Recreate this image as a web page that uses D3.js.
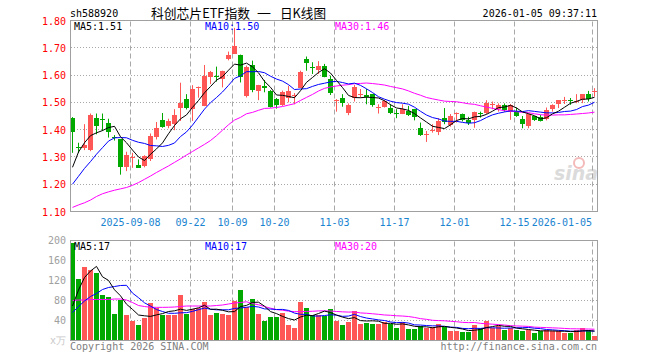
<!DOCTYPE html>
<html><head><meta charset="utf-8">
<script src="https://cdn.jsdelivr.net/npm/d3@7/dist/d3.min.js"></script>
<style>
body{margin:0;background:#fff}
svg{display:block}
text{font-family:"DejaVu Sans Mono","Liberation Mono",monospace;font-size:10px}
</style>
</head><body>
<svg id="chart" width="660" height="360"></svg>
<script>
// ---------- DATA ----------
const dates = [
"2025-08-25","2025-08-26","2025-08-27","2025-08-28","2025-08-29",
"2025-09-01","2025-09-02","2025-09-03","2025-09-04","2025-09-05",
"2025-09-08","2025-09-09","2025-09-10","2025-09-11","2025-09-12",
"2025-09-15","2025-09-16","2025-09-17","2025-09-18","2025-09-19",
"2025-09-22","2025-09-23","2025-09-24","2025-09-25","2025-09-26",
"2025-09-29","2025-09-30","2025-10-09","2025-10-10","2025-10-13",
"2025-10-14","2025-10-15","2025-10-16","2025-10-17","2025-10-20",
"2025-10-21","2025-10-22","2025-10-23","2025-10-24","2025-10-27",
"2025-10-28","2025-10-29","2025-10-30","2025-10-31","2025-11-03",
"2025-11-04","2025-11-05","2025-11-06","2025-11-07","2025-11-10",
"2025-11-11","2025-11-12","2025-11-13","2025-11-14","2025-11-17",
"2025-11-18","2025-11-19","2025-11-20","2025-11-21","2025-11-24",
"2025-11-25","2025-11-26","2025-11-27","2025-11-28","2025-12-01",
"2025-12-02","2025-12-03","2025-12-04","2025-12-05","2025-12-08",
"2025-12-09","2025-12-10","2025-12-11","2025-12-12","2025-12-15",
"2025-12-16","2025-12-17","2025-12-18","2025-12-19","2025-12-22",
"2025-12-23","2025-12-24","2025-12-25","2025-12-26","2025-12-29",
"2025-12-30","2025-12-31","2026-01-05"];

const opens = [1.444,1.336,1.335,1.324,1.444,1.438,1.423,1.372,1.364,1.262,
1.298,1.272,1.266,1.291,1.371,1.434,1.410,1.422,1.479,1.511,
1.474,1.550,1.486,1.594,1.598,1.585,1.657,1.680,1.674,1.524,
1.637,1.543,1.559,1.543,1.512,1.493,1.518,1.525,1.555,1.660,
1.630,1.622,1.635,1.586,1.506,1.516,1.463,1.516,1.528,1.527,
1.530,1.479,1.484,1.479,1.461,1.457,1.469,1.476,1.407,1.380,
1.396,1.391,1.441,1.416,1.457,1.457,1.436,1.432,1.461,1.460,
1.492,1.475,1.490,1.466,1.469,1.438,1.414,1.450,1.448,1.438,
1.475,1.494,1.506,1.507,1.503,1.508,1.530,1.540];
const highs = [1.446,1.352,1.420,1.459,1.459,1.459,1.440,1.380,1.365,1.319,
1.315,1.291,1.306,1.386,1.428,1.461,1.440,1.475,1.572,1.530,
1.563,1.558,1.637,1.615,1.631,1.616,1.686,1.773,1.675,1.635,
1.653,1.564,1.582,1.545,1.516,1.543,1.561,1.534,1.616,1.668,
1.647,1.651,1.641,1.598,1.512,1.530,1.496,1.564,1.549,1.549,
1.531,1.493,1.509,1.493,1.475,1.493,1.487,1.476,1.426,1.395,
1.420,1.442,1.479,1.457,1.463,1.459,1.447,1.466,1.466,1.508,
1.503,1.496,1.496,1.494,1.481,1.450,1.459,1.450,1.454,1.481,
1.493,1.508,1.520,1.516,1.530,1.530,1.542,1.552];
const lows = [1.315,1.315,1.325,1.321,1.383,1.395,1.371,1.360,1.235,1.248,
1.260,1.260,1.262,1.285,1.364,1.407,1.405,1.398,1.432,1.474,
1.432,1.517,1.486,1.567,1.576,1.555,1.654,1.678,1.573,1.518,
1.537,1.508,1.537,1.481,1.477,1.487,1.500,1.493,1.553,1.616,
1.604,1.604,1.592,1.527,1.466,1.484,1.453,1.503,1.518,1.493,
1.484,1.459,1.481,1.457,1.442,1.457,1.450,1.434,1.377,1.355,
1.389,1.380,1.420,1.411,1.426,1.430,1.417,1.407,1.444,1.457,
1.475,1.466,1.466,1.436,1.447,1.405,1.405,1.432,1.430,1.434,
1.466,1.479,1.494,1.491,1.497,1.497,1.503,1.521];
const closes = [1.393,1.334,1.345,1.454,1.416,1.434,1.389,1.368,1.262,1.307,
1.300,1.262,1.303,1.377,1.405,1.410,1.430,1.454,1.499,1.477,
1.549,1.555,1.596,1.613,1.594,1.614,1.672,1.708,1.594,1.631,
1.545,1.564,1.551,1.485,1.490,1.539,1.543,1.528,1.613,1.644,
1.628,1.635,1.596,1.534,1.509,1.497,1.491,1.557,1.531,1.519,
1.491,1.482,1.506,1.459,1.459,1.475,1.454,1.447,1.380,1.383,
1.398,1.432,1.426,1.450,1.460,1.436,1.425,1.463,1.459,1.497,
1.494,1.491,1.473,1.490,1.450,1.420,1.459,1.436,1.432,1.471,
1.491,1.508,1.508,1.505,1.506,1.530,1.512,1.540];
const volumes = [194,122,146,140,134,90,86,52,80,50,
38,30,44,74,65,51,51,51,90,53,
63,65,76,50,54,52,50,78,100,66,
82,52,38,46,46,54,30,24,76,64,
50,51,48,62,38,30,36,58,32,34,
32,32,36,33,24,36,22,22,28,24,
26,32,26,18,18,16,16,30,25,38,
25,28,21,24,21,18,21,14,18,20,
18,18,14,14,21,24,21,9];

// moving-average values before enough history exists
const priceMa5Lead  = [1.262,1.318,1.352,1.378];
const priceMa10Lead = [1.200,1.229,1.258,1.283,1.310,1.334,1.358,1.370,1.371];
const priceMa30Lead = [1.115,1.124,1.132,1.142,1.155,1.165,1.172,1.178,1.183,1.188,
  1.196,1.206,1.218,1.230,1.243,1.255,1.267,1.280,1.293,1.307,
  1.320,1.333,1.346,1.360,1.378,1.398,1.418,1.435,1.445];
const volMa5Lead  = [68,100,125,138];
const volMa10Lead = [55,67,78,87,93,101,105,107,109];
const volMa30Lead = [79,80,80,81,81,81,81,82,82,80,
  75,69,67,65.5,65.3,65.3,65.5,66,67,68,
  68,68,68,68,69,70,72,74,75];

const priceTicks = [1.80,1.70,1.60,1.50,1.40,1.30,1.20,1.10];
const volTicks = [200,160,120,80,40];
const dateTicks = ["2025-09-08","2025-09-22","2025-10-09","2025-10-20","2025-11-03","2025-11-17","2025-12-01","2025-12-15","2026-01-05"];
const dateTickLabels = ["2025-09-08","09-22","10-09","10-20","11-03","11-17","12-01","12-15","2026-01-05"];
const priceMaLabels = ["MA5:1.51","MA10:1.50","MA30:1.46"];
const volMaLabels = ["MA5:17","MA10:17","MA30:20"];
const headerCode = "sh588920";
const titleParts = ["科创芯片ETF指数","一","日K线图"];
const headerTime = "2026-01-05 09:37:11";

// ---------- DRAW ----------
const svg = d3.select("#chart");
const RED = "#ff5656", GREEN = "#00a800", GRID = "#a8a8a8", FRAME = "#a0a0a0";
const maColors = ["#000000","#0000ff","#ff00ff"];

const L = 70, R = 598;
const x = d3.scaleBand().domain(dates).range([L - 0.5, R - 0.5]).paddingInner(1/6).paddingOuter(1/12);
const y = d3.scaleLinear().domain([1.10, 1.80]).range([211.5, 20.5]);
const yv = d3.scaleLinear().domain([0, 200]).range([340, 240]);
const cx = d => Math.round(x(d)) + 2.5;
const crisp = v => Math.round(v) + 0.5;

function movingAvg(vals, n, lead) {
  return vals.map((v, i) => i < n - 1 ? lead[i] : d3.mean(vals.slice(i - n + 1, i + 1)));
}

// header
svg.append("text").attr("x", 70).attr("y", 17).text(headerCode).attr("fill", "#000");
const titleX = [151, 257, 280], titleW = [99, 14, 46];
titleParts.forEach((t, k) => svg.append("text").attr("x", titleX[k]).attr("y", 18).text(t).attr("fill", "#000")
  .style("font-family", "'Noto Sans CJK SC',sans-serif").style("font-size", "13px")
  .attr("textLength", titleW[k]).attr("lengthAdjust", "spacingAndGlyphs"));
svg.append("text").attr("x", 597).attr("y", 17).attr("text-anchor", "end").text(headerTime).attr("fill", "#000");

// watermark
const wm = svg.append("g").attr("opacity", 0.9);
wm.append("circle").attr("cx", 579).attr("cy", 163).attr("r", 5).attr("fill", "none").attr("stroke", "#f3b3b3").attr("stroke-width", 2);
wm.append("text").attr("x", 554).attr("y", 180).text("sina").attr("fill", "#d8d8d8")
  .style("font-family", "'DejaVu Sans',sans-serif").style("font-size", "19px").style("font-weight", "bold").style("font-style", "italic");

function panel(top, bottom, hTicks, yScale) {
  const g = svg.append("g");
  g.selectAll("line.h").data(hTicks).join("line")
    .attr("x1", L + 1).attr("x2", R - 1)
    .attr("y1", d => crisp(yScale(d) - 0.5)).attr("y2", d => crisp(yScale(d) - 0.5))
    .attr("stroke", GRID).attr("stroke-dasharray", "1,2");
  g.selectAll("line.v").data(dateTicks).join("line")
    .attr("x1", d => Math.round(x(d)) + 0.5).attr("x2", d => Math.round(x(d)) + 0.5)
    .attr("y1", top + 1).attr("y2", bottom)
    .attr("stroke", GRID).attr("stroke-dasharray", "5,3");
  return g;
}
panel(20.5, 211.5, [1.70,1.60,1.50,1.40,1.30,1.20], y);
panel(240.5, 340, [160,120,80,40], yv);

// candles
const idx = d3.range(dates.length);
const cg = svg.append("g");
cg.selectAll("line.wick").data(idx).join("line")
  .attr("x1", i => cx(dates[i])).attr("x2", i => cx(dates[i]))
  .attr("y1", i => y(highs[i])).attr("y2", i => y(lows[i]))
  .attr("stroke", i => closes[i] >= opens[i] ? RED : GREEN);
cg.selectAll("rect.body").data(idx).join("rect")
  .attr("x", i => Math.round(x(dates[i])))
  .attr("width", 5)
  .attr("y", i => Math.round(y(Math.max(opens[i], closes[i]))))
  .attr("height", i => Math.max(1, Math.round(Math.abs(y(opens[i]) - y(closes[i])))))
  .attr("fill", i => closes[i] >= opens[i] ? RED : GREEN)
  .attr("shape-rendering", "crispEdges");

// volume bars
svg.append("g").selectAll("rect").data(idx).join("rect")
  .attr("x", i => Math.round(x(dates[i])))
  .attr("width", 5)
  .attr("y", i => Math.round(yv(volumes[i])))
  .attr("height", i => 340 - Math.round(yv(volumes[i])))
  .attr("fill", i => closes[i] >= opens[i] ? RED : GREEN)
  .attr("shape-rendering", "crispEdges");

// MA lines
const priceMAs = [movingAvg(closes, 5, priceMa5Lead), movingAvg(closes, 10, priceMa10Lead), movingAvg(closes, 30, priceMa30Lead)];
const volMAs = [movingAvg(volumes, 5, volMa5Lead), movingAvg(volumes, 10, volMa10Lead), movingAvg(volumes, 30, volMa30Lead)];
[2,1,0].forEach(k => {
  svg.append("path").datum(priceMAs[k])
    .attr("d", d3.line().x((d, i) => cx(dates[i])).y(d => y(d)))
    .attr("fill", "none").attr("stroke", maColors[k]).attr("stroke-width", 1);
  svg.append("path").datum(volMAs[k])
    .attr("d", d3.line().x((d, i) => cx(dates[i])).y(d => yv(d)))
    .attr("fill", "none").attr("stroke", maColors[k]).attr("stroke-width", 1);
});

// frames
svg.append("rect").attr("x", L + 0.5).attr("y", 20.5).attr("width", R - L - 1).attr("height", 191)
  .attr("fill", "none").attr("stroke", FRAME);
svg.append("rect").attr("x", L + 0.5).attr("y", 240.5).attr("width", R - L - 1).attr("height", 100)
  .attr("fill", "none").attr("stroke", FRAME);

// axis labels
svg.selectAll("text.pt").data(priceTicks).join("text")
  .attr("x", 66).attr("y", d => y(d) + 4).attr("text-anchor", "end")
  .attr("fill", "#ff0000").text(d => d.toFixed(2));
svg.selectAll("text.vt").data(volTicks).join("text")
  .attr("x", 66).attr("y", d => yv(d) + 4).attr("text-anchor", "end")
  .attr("fill", "#a0a0a0").text(d => d);
svg.append("text").attr("x", 66).attr("y", 344).attr("text-anchor", "end").attr("fill", "#c8c8c8").text("x万");

svg.selectAll("text.dt").data(dateTicks).join("text")
  .attr("x", (d, i) => i === dateTicks.length - 1 ? 592 : Math.round(x(d)) + 0.5)
  .attr("y", 226)
  .attr("text-anchor", (d, i) => i === dateTicks.length - 1 ? "end" : "middle")
  .attr("fill", "#1a84d0").text((d, i) => dateTickLabels[i]);

// MA legends
const legX = [74, 205, 335];
priceMaLabels.forEach((t, k) => svg.append("text").attr("x", legX[k]).attr("y", 30).attr("fill", maColors[k]).text(t));
volMaLabels.forEach((t, k) => svg.append("text").attr("x", legX[k]).attr("y", 250).attr("fill", maColors[k]).text(t));

// footer
svg.append("text").attr("x", 70).attr("y", 350).attr("fill", "#808080").text("Copyright 2026 SINA.COM");
svg.append("text").attr("x", 597).attr("y", 350).attr("text-anchor", "end").attr("fill", "#808080").text("http://finance.sina.com.cn");
</script>
</body></html>
